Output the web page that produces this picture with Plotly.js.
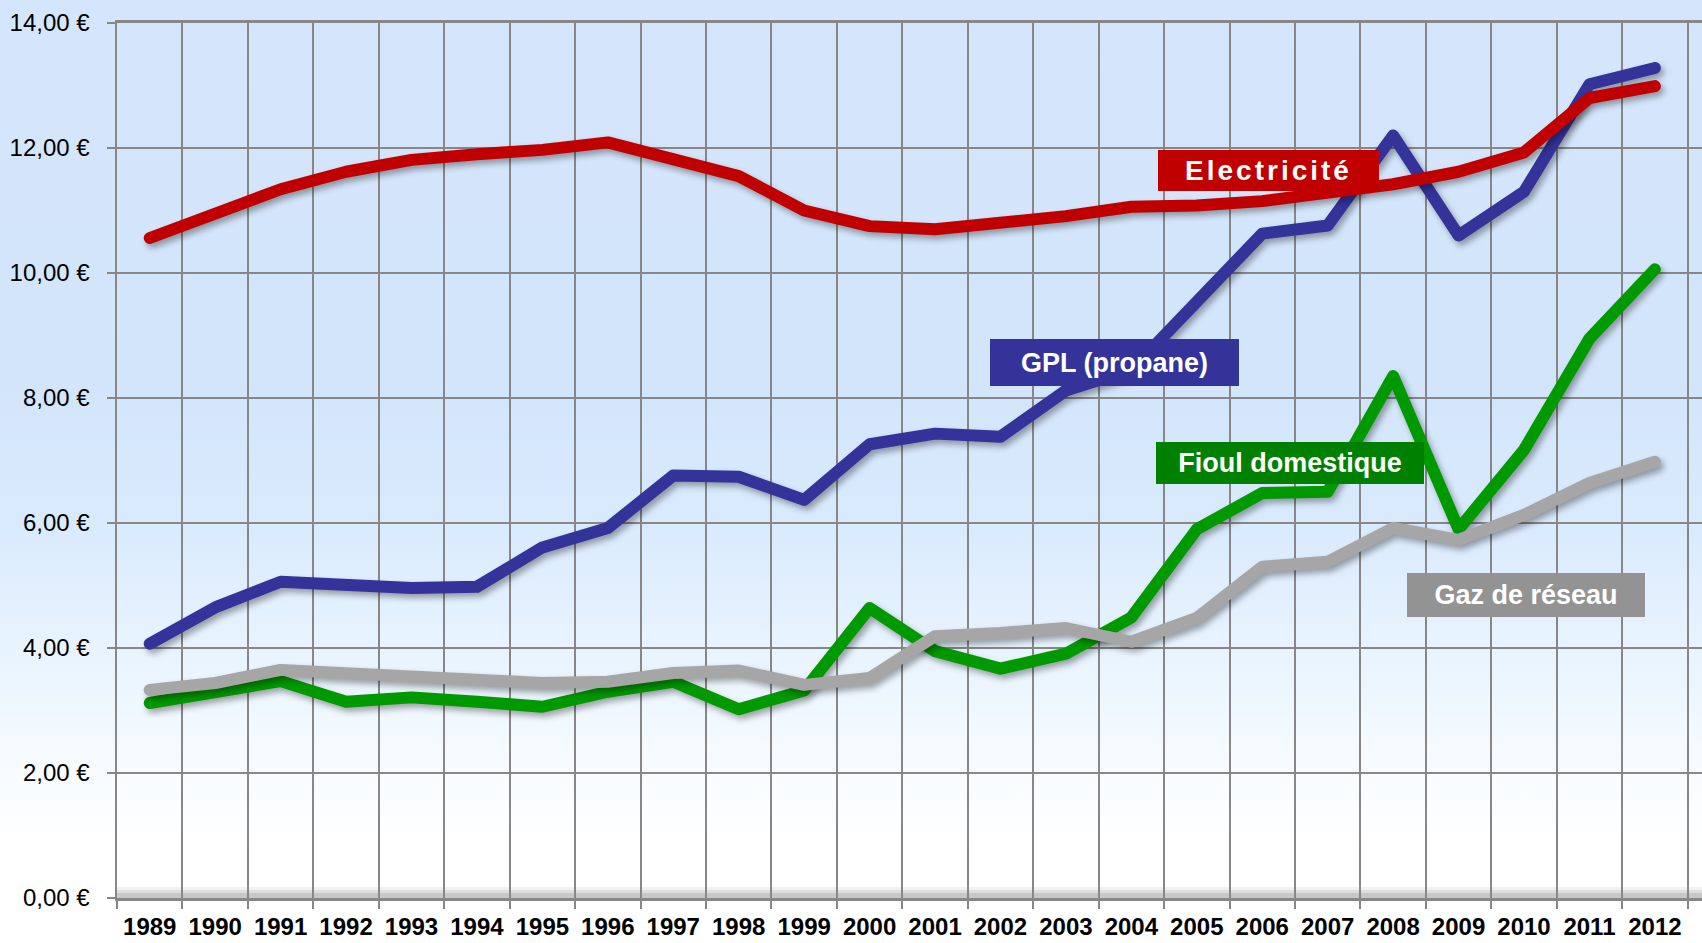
<!DOCTYPE html>
<html>
<head>
<meta charset="utf-8">
<script src="https://cdn.plot.ly/plotly-3.0.1.min.js"></script>
<style>
  html, body { margin: 0; padding: 0; }
  body {
    width: 1702px; height: 943px; overflow: hidden;
    background: linear-gradient(to bottom, #d5e6fc 0%, #d3e5fb 40%, #d9eafd 55%, #e9f4fe 70%, #f8fcff 82%, #ffffff 90%, #ffffff 100%);
  }
  #chart { width: 1702px; height: 943px; }
  .scatterlayer .js-line {
    stroke-linecap: round !important;
    stroke-linejoin: round !important;
    filter: drop-shadow(3px 4px 3px rgba(0,0,0,0.35));
  }
  .annotation[data-index="0"] text { letter-spacing: 3px; }
</style>
</head>
<body>
<div id="chart"></div>
<script>
const years = ['1989','1990','1991','1992','1993','1994','1995','1996','1997','1998','1999','2000',
               '2001','2002','2003','2004','2005','2006','2007','2008','2009','2010','2011','2012'];
const electricite = [10.56, 10.96, 11.34, 11.62, 11.81, 11.90, 11.97, 12.09, 11.81, 11.55, 11.00, 10.75,
                     10.70, 10.79, 10.91, 11.06, 11.08, 11.15, 11.27, 11.42, 11.62, 11.93, 12.80, 12.99];
const gpl = [4.07, 4.65, 5.06, 5.02, 4.96, 4.98, 5.61, 5.92, 6.76, 6.74, 6.37, 7.26,
             7.43, 7.38, 8.12, 8.45, 9.55, 10.63, 10.76, 12.20, 10.60, 11.30, 13.02, 13.28];
const fioul = [3.12, 3.30, 3.47, 3.14, 3.21, 3.14, 3.06, 3.30, 3.46, 3.02, 3.32, 4.64,
               3.95, 3.67, 3.91, 4.49, 5.90, 6.48, 6.50, 8.35, 5.90, 7.17, 8.95, 10.06];
const gaz = [3.33, 3.44, 3.65, 3.60, 3.54, 3.50, 3.44, 3.46, 3.60, 3.64, 3.41, 3.52,
             4.19, 4.24, 4.32, 4.10, 4.48, 5.30, 5.38, 5.92, 5.73, 6.13, 6.64, 6.98];
const yTicks = [0, 2, 4, 6, 8, 10, 12, 14];
const yTickText = yTicks.map(v => v.toFixed(2).replace('.', ',') + '\u00a0€');

const idx = years.map((_, i) => i);
const bounds = years.map((_, i) => i - 0.5).concat([years.length - 0.5]);

function line(y, color, name) {
  return { x: idx, y: y, type: 'scatter', mode: 'lines', name: name,
           line: { color: color, width: 12 }, hoverinfo: 'skip' };
}

const data = [
  line(gpl, '#333399', 'GPL (propane)'),
  line(fioul, '#009900', 'Fioul domestique'),
  line(gaz, '#a6a6a6', 'Gaz de réseau'),
  line(electricite, '#c00000', 'Electricité')
];

const gridC = '#878787';
const layout = {
  width: 1702, height: 943,
  margin: { l: 117, r: 0, t: 23, b: 45, pad: 0 },
  paper_bgcolor: 'rgba(0,0,0,0)',
  plot_bgcolor: 'rgba(0,0,0,0)',
  showlegend: false,
  font: { family: 'Liberation Sans, Arial, sans-serif', color: '#000' },
  xaxis: {
    range: [-0.5, 23.72],
    tickmode: 'array', tickvals: idx, ticktext: years,
    showgrid: false, zeroline: false, ticks: '',
    ticklabelstandoff: 5,
    tickfont: { family: 'Liberation Sans, Arial, sans-serif', size: 24, weight: 'bold', color: '#000' },
    showline: true, linecolor: gridC, linewidth: 3, mirror: true,
    minor: { tickmode: 'array', tickvals: bounds, showgrid: true, gridcolor: gridC, gridwidth: 2,
             ticks: 'outside', ticklen: 8, tickcolor: gridC, tickwidth: 2 }
  },
  yaxis: {
    range: [0, 14],
    tickmode: 'array', tickvals: yTicks, ticktext: yTickText,
    showgrid: true, gridcolor: gridC, gridwidth: 2.5,
    zeroline: false,
    ticks: 'outside', ticklen: 8, tickcolor: gridC, tickwidth: 2,
    ticklabelstandoff: 12,
    tickfont: { family: 'Liberation Sans, Arial, sans-serif', size: 24, color: '#000' },
    showline: true, linecolor: gridC, linewidth: 2.5
  },
  shapes: [
    { type: 'rect', xref: 'paper', yref: 'paper', x0: 0, x1: 1, ysizemode: 'pixel', yanchor: 0, y0: 0, y1: 11,
      fillcolor: 'rgba(120,120,120,0.10)', line: { width: 0 }, layer: 'below' },
    { type: 'rect', xref: 'paper', yref: 'paper', x0: 0, x1: 1, ysizemode: 'pixel', yanchor: 0, y0: 0, y1: 8,
      fillcolor: 'rgba(120,120,120,0.15)', line: { width: 0 }, layer: 'below' },
    { type: 'rect', xref: 'paper', yref: 'paper', x0: 0, x1: 1, ysizemode: 'pixel', yanchor: 0, y0: 0, y1: 5,
      fillcolor: 'rgba(110,110,110,0.2)', line: { width: 0 }, layer: 'below' }
  ],
  annotations: [
    { text: 'Electricité', xref: 'paper', yref: 'paper', x: 0.7265, y: 0.8314,
      xanchor: 'center', yanchor: 'middle', showarrow: false, width: 221, height: 41,
      bgcolor: '#c00000', borderwidth: 0, borderpad: 0,
      font: { family: 'Liberation Sans, Arial, sans-serif', size: 28, weight: 'bold', color: '#ffffff' } },
    { text: 'GPL (propane)', xref: 'paper', yref: 'paper', x: 0.6293, y: 0.612,
      xanchor: 'center', yanchor: 'middle', showarrow: false, width: 249, height: 47,
      bgcolor: '#333399', borderwidth: 0, borderpad: 0,
      font: { family: 'Liberation Sans, Arial, sans-serif', size: 27, weight: 'bold', color: '#ffffff' } },
    { text: 'Fioul domestique', xref: 'paper', yref: 'paper', x: 0.7401, y: 0.4971,
      xanchor: 'center', yanchor: 'middle', showarrow: false, width: 268, height: 42,
      bgcolor: '#008000', borderwidth: 0, borderpad: 0,
      font: { family: 'Liberation Sans, Arial, sans-serif', size: 27, weight: 'bold', color: '#ffffff' } },
    { text: 'Gaz de réseau', xref: 'paper', yref: 'paper', x: 0.889, y: 0.3463,
      xanchor: 'center', yanchor: 'middle', showarrow: false, width: 238, height: 44,
      bgcolor: '#939393', borderwidth: 0, borderpad: 0,
      font: { family: 'Liberation Sans, Arial, sans-serif', size: 27, weight: 'bold', color: '#ffffff' } }
  ]
};

Plotly.newPlot('chart', data, layout, { staticPlot: true, displayModeBar: false });
</script>
</body>
</html>
